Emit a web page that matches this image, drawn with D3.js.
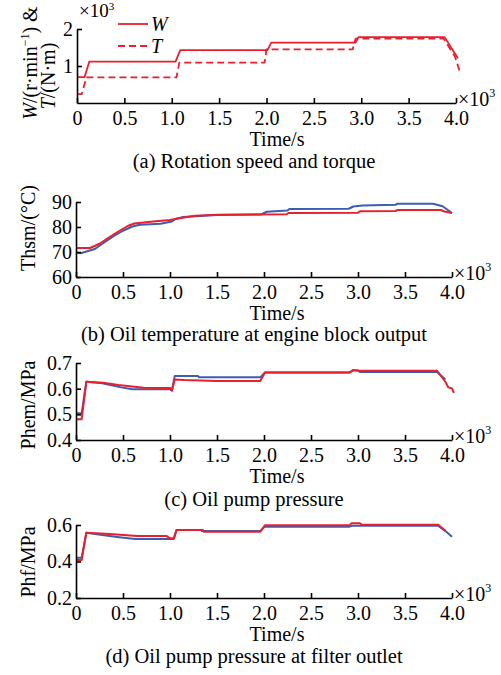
<!DOCTYPE html>
<html>
<head>
<meta charset="utf-8">
<script src="https://cdn.jsdelivr.net/npm/d3@7"></script>
<style>
body { margin: 0; background: #fff; }
svg text { font-family: "Liberation Serif", "Times New Roman", serif; fill: #000; }
.axis path, .axis line { stroke: #000; stroke-width: 1.6px; }
</style>
</head>
<body>
<div id="graphic"></div>
<script>
// time values are in 10^3 s
var xTicks = [0, 0.5, 1, 1.5, 2, 2.5, 3, 3.5, 4];

// (a) rotation speed W and torque T (x10^3)
var wTime = [0, 0.08, 0.13, 1.04, 1.09, 2.01, 2.05, 2.94, 2.97, 3.88, 4.02];
var wVal  = [0.7, 0.7, 1.12, 1.12, 1.43, 1.43, 1.63, 1.63, 1.78, 1.78, 1.21];
var tTime = [0, 0.05, 0.1, 1.05, 1.08, 1.98, 2.0, 2.91, 2.94, 3.87, 3.99, 4.04];
var tVal  = [0.24, 0.24, 0.69, 0.69, 1.09, 1.09, 1.45, 1.45, 1.74, 1.74, 1.25, 0.85];

// (b) oil temperature at engine block output
var tempRedTime  = [0, 0.15, 0.25, 0.35, 0.45, 0.55, 0.62, 0.85, 1.0, 1.1, 1.27, 1.5, 2.24, 2.26, 3.0, 3.02, 3.4, 3.42, 3.88, 3.92, 4.0];
var tempRedVal   = [71.6, 71.6, 73.3, 75.8, 78.2, 80.4, 81.4, 82.3, 82.8, 83.5, 84.5, 84.9, 85.1, 85.6, 85.7, 86.3, 86.4, 86.8, 86.8, 86.2, 85.6];
var tempBlueTime = [0, 0.05, 0.12, 0.2, 0.3, 0.4, 0.5, 0.6, 0.68, 0.9, 1.02, 1.06, 1.14, 1.5, 1.97, 2.03, 2.25, 2.27, 2.9, 2.95, 3.05, 3.4, 3.42, 3.8, 3.9, 4.0];
var tempBlueVal  = [69.7, 69.5, 70.3, 71.2, 73.8, 76.3, 78.5, 80.2, 80.9, 81.3, 82.2, 83.2, 84.0, 84.8, 85.0, 86.1, 86.6, 87.2, 87.3, 88.2, 88.6, 88.9, 89.3, 89.3, 88.3, 85.6];

// (c) oil pump pressure
var pumpRedTime  = [0, 0.06, 0.11, 0.29, 0.45, 0.72, 1.0, 1.02, 1.05, 1.15, 1.5, 1.96, 2.01, 2.91, 2.95, 3.02, 3.84, 3.93, 3.96, 4.0, 4.02];
var pumpRedVal   = [0.481, 0.481, 0.627, 0.623, 0.614, 0.604, 0.603, 0.592, 0.636, 0.634, 0.63, 0.63, 0.663, 0.663, 0.673, 0.67, 0.67, 0.627, 0.605, 0.601, 0.584];
var pumpBlueTime = [0, 0.06, 0.11, 0.28, 0.48, 0.6, 1.0, 1.02, 1.05, 1.3, 1.31, 1.96, 2.01, 2.91, 2.95, 3.0, 3.02, 3.84, 3.93];
var pumpBlueVal  = [0.504, 0.504, 0.627, 0.621, 0.605, 0.598, 0.598, 0.593, 0.649, 0.649, 0.644, 0.644, 0.663, 0.663, 0.671, 0.671, 0.665, 0.665, 0.636];

// (d) oil pump pressure at filter outlet
var filterRedTime  = [0, 0.06, 0.11, 0.36, 0.65, 0.96, 1.0, 1.04, 1.07, 1.35, 1.36, 1.96, 2.01, 2.91, 2.93, 3.02, 3.04, 3.85, 3.93];
var filterRedVal   = [0.408, 0.408, 0.558, 0.551, 0.54, 0.54, 0.527, 0.527, 0.573, 0.573, 0.563, 0.563, 0.598, 0.598, 0.609, 0.609, 0.602, 0.602, 0.569];
var filterBlueTime = [0, 0.06, 0.11, 0.28, 0.46, 0.63, 1.04, 1.07, 1.33, 1.34, 1.96, 2.01, 2.91, 2.94, 3.85, 3.94, 4.0];
var filterBlueVal  = [0.421, 0.421, 0.558, 0.545, 0.533, 0.523, 0.523, 0.573, 0.573, 0.567, 0.567, 0.591, 0.591, 0.596, 0.596, 0.563, 0.536];

var red = '#e81f2d';
var blue = '#3b5db2';

var svg = d3.select('#graphic').append('svg')
  .attr('width', 501)
  .attr('height', 675);

function pairs(t, v) {
  return t.map(function(d, i) { return [d, v[i]]; });
}

var panels = [
  {
    x0: 77, x1: 456, yBottom: 103, yTop: 29, yDomain: [0, 2], yTicks: [1, 2],
    caption: '(a) Rotation speed and torque', captionY: 168, titleY: 146,
    series: [
      { data: pairs(wTime, wVal), colour: red, dash: null, width: 1.8 },
      { data: pairs(tTime, tVal), colour: red, dash: '7,4', width: 1.8 }
    ]
  },
  {
    x0: 76, x1: 452, yBottom: 277, yTop: 202, yDomain: [60, 90], yTicks: [60, 70, 80, 90],
    caption: '(b) Oil temperature at engine block output', captionY: 341, titleY: 320,
    label: 'Thsm/(°C)', labelY: 228,
    series: [
      { data: pairs(tempBlueTime, tempBlueVal), colour: blue, width: 2 },
      { data: pairs(tempRedTime, tempRedVal), colour: red, width: 2 }
    ]
  },
  {
    x0: 76, x1: 452, yBottom: 440, yTop: 363, yDomain: [0.4, 0.7], yTicks: [0.4, 0.5, 0.6, 0.7],
    caption: '(c) Oil pump pressure', captionY: 506, titleY: 483,
    label: 'Phem/MPa', labelY: 405,
    series: [
      { data: pairs(pumpBlueTime, pumpBlueVal), colour: blue, width: 2 },
      { data: pairs(pumpRedTime, pumpRedVal), colour: red, width: 2 }
    ]
  },
  {
    x0: 76, x1: 452, yBottom: 598, yTop: 525, yDomain: [0.2, 0.6], yTicks: [0.2, 0.4, 0.6],
    caption: '(d) Oil pump pressure at filter outlet', captionY: 663, titleY: 641,
    label: 'Phf/MPa', labelY: 562,
    series: [
      { data: pairs(filterBlueTime, filterBlueVal), colour: blue, width: 2 },
      { data: pairs(filterRedTime, filterRedVal), colour: red, width: 2 }
    ]
  }
];

function xFormat(d) {
  return d === 0 ? '0' : d3.format('.1f')(d);
}

panels.forEach(function(p, idx) {
  var x = d3.scaleLinear().domain([0, 4]).range([p.x0, p.x1]);
  var y = d3.scaleLinear().domain(p.yDomain).range([p.yBottom, p.yTop]);

  var g = svg.append('g');

  var line = d3.line()
    .x(function(d) { return x(d[0]); })
    .y(function(d) { return y(d[1]); });

  p.series.forEach(function(s) {
    g.append('path')
      .attr('d', line(s.data))
      .attr('fill', 'none')
      .attr('stroke', s.colour)
      .attr('stroke-width', s.width)
      .attr('stroke-dasharray', s.dash)
      .attr('stroke-linejoin', 'round');
  });

  // axes, ticks pointing inward
  g.append('g')
    .attr('class', 'axis')
    .attr('transform', 'translate(0,' + p.yBottom + ')')
    .call(d3.axisBottom(x).tickValues(xTicks).tickSize(-5).tickSizeOuter(0).tickPadding(8).tickFormat(xFormat))
    .call(function(a) { a.selectAll('text').attr('font-size', 20).attr('font-family', null); });

  var yFmt = idx === 0 || idx === 1 ? d3.format('d') : d3.format('.1f');
  g.append('g')
    .attr('class', 'axis')
    .attr('transform', 'translate(' + p.x0 + ',0)')
    .call(d3.axisLeft(y).tickValues(p.yTicks).tickSize(-5).tickSizeOuter(0).tickPadding(4).tickFormat(yFmt))
    .call(function(a) { a.selectAll('text').attr('font-size', 20).attr('font-family', null); });

  // x10^3 at the end of the x axis
  var mult = g.append('text')
    .attr('x', p.x1 + 2)
    .attr('y', p.yBottom + 3)
    .attr('font-size', 20);
  mult.append('tspan').text('×10');
  mult.append('tspan').attr('font-size', 12).attr('dy', -9).text('3');

  g.append('text')
    .attr('x', 277)
    .attr('y', p.titleY)
    .attr('text-anchor', 'middle')
    .attr('font-size', 20)
    .text('Time/s');

  g.append('text')
    .attr('x', 254)
    .attr('y', p.captionY)
    .attr('text-anchor', 'middle')
    .attr('font-size', 20.5)
    .text(p.caption);

  if (p.label) {
    g.append('text')
      .attr('transform', 'translate(35,' + p.labelY + ') rotate(-90)')
      .attr('text-anchor', 'middle')
      .attr('font-size', 20)
      .text(p.label);
  }
});

// panel (a) extras: y label on two lines, x10^3 on top, legend
var lab1 = svg.append('text')
  .attr('transform', 'translate(37,63) rotate(-90)')
  .attr('text-anchor', 'middle')
  .attr('font-size', 20);
lab1.append('tspan').attr('font-style', 'italic').text('W');
lab1.append('tspan').text('/(r·min');
lab1.append('tspan').attr('font-size', 12).attr('dy', -8).text('−1');
lab1.append('tspan').attr('dy', 8).text(') &');

var lab2 = svg.append('text')
  .attr('transform', 'translate(55,76) rotate(-90)')
  .attr('text-anchor', 'middle')
  .attr('font-size', 20);
lab2.append('tspan').attr('font-style', 'italic').text('T');
lab2.append('tspan').text('/(N·m)');

var topMult = svg.append('text').attr('x', 79).attr('y', 17).attr('font-size', 19);
topMult.append('tspan').text('×10');
topMult.append('tspan').attr('font-size', 11).attr('dy', -7).text('3');

var legendNames = ['W', 'T'];
var legendDash = [null, '7,4'];
var legendY = d3.scalePoint().domain(legendNames).range([24, 46]);

var leg = svg.selectAll('g.legend')
  .data(legendNames)
  .join('g')
  .attr('class', 'legend');

leg.append('line')
  .attr('x1', 118).attr('x2', 148)
  .attr('y1', function(d) { return legendY(d); })
  .attr('y2', function(d) { return legendY(d); })
  .attr('stroke', red)
  .attr('stroke-width', 1.8)
  .attr('stroke-dasharray', function(d, i) { return legendDash[i]; });

leg.append('text')
  .attr('x', 151)
  .attr('y', function(d) { return legendY(d) + 7; })
  .attr('font-size', 20)
  .attr('font-style', 'italic')
  .text(function(d) { return d; });
</script>
</body>
</html>
